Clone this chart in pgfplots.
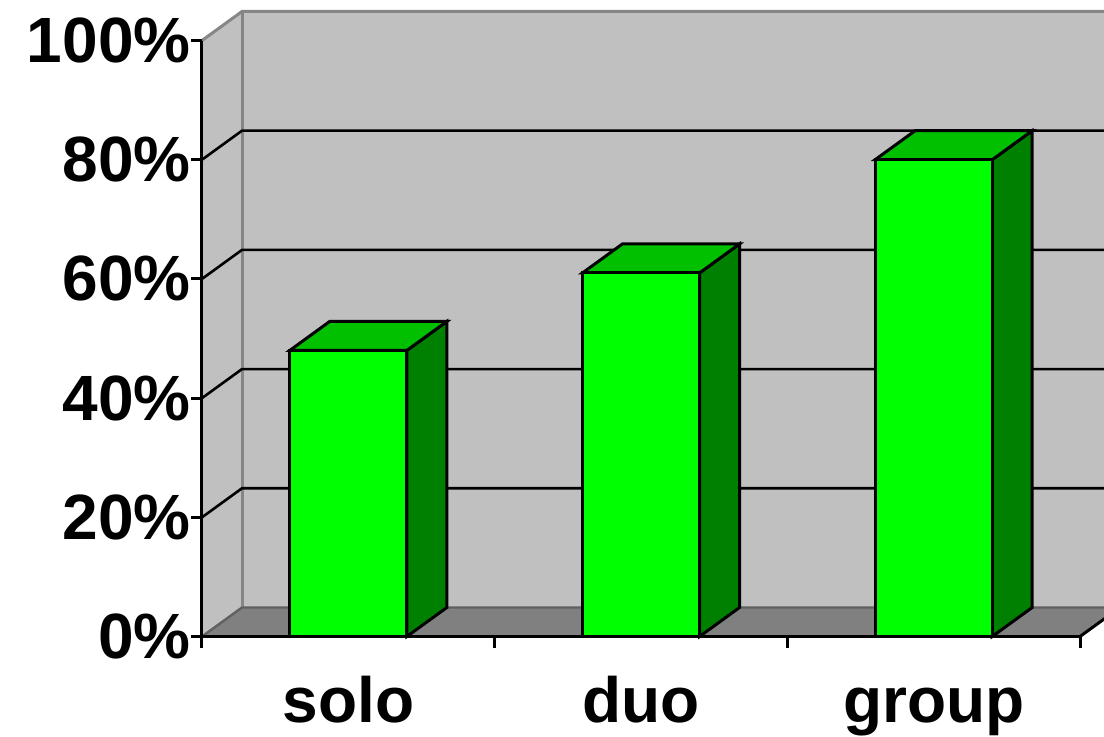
\documentclass[border=0pt]{standalone}
\usepackage{pgfplots}
\pgfplotsset{compat=1.18}
\usepackage{fontspec}
\setmainfont{Liberation Sans}

\definecolor{wall}{HTML}{C0C0C0}
\definecolor{floorc}{HTML}{808080}
\definecolor{edge}{HTML}{868686}
\definecolor{edgedark}{HTML}{606060}
\definecolor{barfront}{HTML}{00FF00}
\definecolor{bartop}{HTML}{00C000}
\definecolor{barside}{HTML}{008000}

% depth of the 3-D box, in axis units
\newcommand\dx{0.1367}
\newcommand\dy{4.87}

% a 3-D column: #1 = category centre, #2 = value in percent
\newcommand{\cube}[2]{%
  \pgfmathsetmacro\xl{#1-0.2}%
  \pgfmathsetmacro\xr{#1+0.2}%
  \pgfmathsetmacro\xlb{#1-0.2+\dx}%
  \pgfmathsetmacro\xrb{#1+0.2+\dx}%
  \pgfmathsetmacro\yt{#2+\dy}%
  \edef\next{%
    \noexpand\addplot[barline, fill=barside] coordinates {(\xr,0) (\xrb,\dy) (\xrb,\yt) (\xr,#2)} -- cycle;
    \noexpand\addplot[barline, fill=bartop] coordinates {(\xl,#2) (\xr,#2) (\xrb,\yt) (\xlb,\yt)} -- cycle;
    \noexpand\addplot[barline, fill=barfront] coordinates {(\xl,0) (\xr,0) (\xr,#2) (\xl,#2)} -- cycle;
  }\next}

\begin{document}
\begin{tikzpicture}
\useasboundingbox (-101pt,-49.75pt) rectangle (451pt,318.25pt);
\clip (-101pt,-49.75pt) rectangle (451pt,318.25pt);
\begin{axis}[
  scale only axis, width=439pt, height=298pt,
  xmin=0, xmax=3, ymin=0, ymax=100,
  clip=false, axis on top, no markers,
  axis x line*=bottom, axis y line*=left,
  axis line style={black, line width=1.5pt},
  xtick={0,1,2,3}, xticklabels={solo,duo,group},
  x tick label as interval,
  ytick={0,20,40,60,80,100},
  yticklabels={0\%,20\%,40\%,60\%,80\%,100\%},
  tick align=outside, major tick length=5.5pt,
  tick style={black, line width=1.5pt},
  ticklabel style={font=\bfseries\fontsize{32}{32}\selectfont, inner sep=0pt},
  yticklabel style={anchor=east},
  xticklabel style={anchor=base, yshift=-37.5pt},
  barline/.style={draw=black, line width=1.5pt},
]
% walls and floor
\addplot[fill=wall, draw=none] coordinates {(0,0) (0.1367,4.87) (0.1367,104.87) (0,100)} -- cycle;
\addplot[fill=wall, draw=none] coordinates {(0.1367,4.87) (3.1367,4.87) (3.1367,104.87) (0.1367,104.87)} -- cycle;
\addplot[fill=floorc, draw=none] coordinates {(0,0) (0.1367,4.87) (3.1367,4.87) (3,0)} -- cycle;
% wall edges
\addplot[edge, line width=1.5pt] coordinates {(0,100) (0.1367,104.87) (3.1367,104.87)};
\addplot[edge, line width=1.5pt] coordinates {(0.1367,4.87) (0.1367,104.87)};
\addplot[edgedark, line width=1.2pt] coordinates {(0,0) (0.1367,4.87) (3.1367,4.87)};
\addplot[black, line width=1.5pt] coordinates {(3,0) (3.1367,4.87)};
% gridlines
\addplot[black, line width=1.3pt] coordinates {(0,20) (0.1367,24.87) (3.1367,24.87)};
\addplot[black, line width=1.3pt] coordinates {(0,40) (0.1367,44.87) (3.1367,44.87)};
\addplot[black, line width=1.3pt] coordinates {(0,60) (0.1367,64.87) (3.1367,64.87)};
\addplot[black, line width=1.3pt] coordinates {(0,80) (0.1367,84.87) (3.1367,84.87)};
% columns
\cube{0.5}{48}
\cube{1.5}{61}
\cube{2.5}{80}
\end{axis}
\end{tikzpicture}
\end{document}
